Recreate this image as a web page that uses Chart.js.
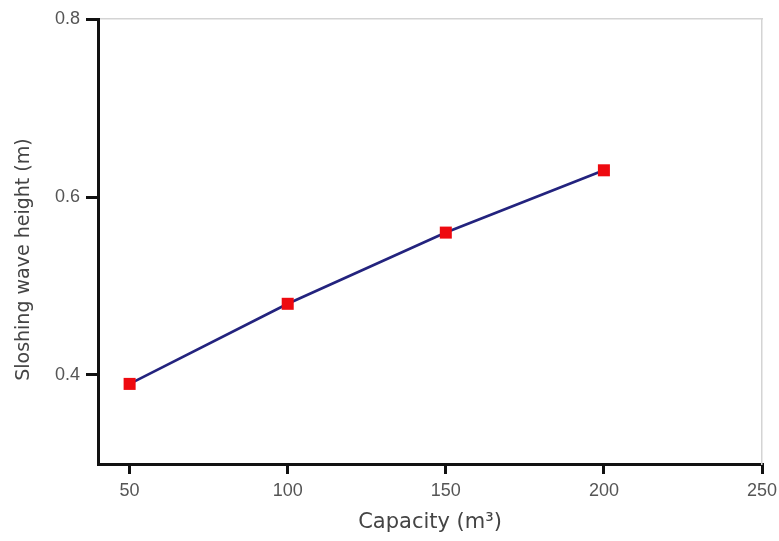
<!DOCTYPE html>
<html>
<head>
<meta charset="utf-8">
<script src="https://cdn.jsdelivr.net/npm/chart.js@4.4.1/dist/chart.umd.min.js"></script>
<style>
html,body{margin:0;padding:0;background:#fff;}
#wrap{width:779px;height:541px;}
</style>
</head>
<body>
<div id="wrap"><canvas id="c" width="779" height="541"></canvas></div>
<script>
const capacity = [50, 100, 150, 200];
const waveHeight = [0.39, 0.48, 0.56, 0.63];
const xTicks = [50, 100, 150, 200, 250];
const yTicks = [0.4, 0.6, 0.8];

const FONT = "'Liberation Sans', Arial, sans-serif";
const TFONT = "'DejaVu Sans', 'Liberation Sans', sans-serif";

new Chart(document.getElementById('c'), {
  type: 'line',
  data: {
    datasets: [{
      data: capacity.map((x, i) => ({x: x, y: waveHeight[i]})),
      borderColor: '#23237e',
      borderWidth: 2.7,
      pointStyle: 'rect',
      pointRadius: 8.5,
      pointBackgroundColor: '#ee0a10',
      pointBorderWidth: 0,
      tension: 0,
      clip: false
    }]
  },
  options: {
    responsive: false,
    animation: false,
    devicePixelRatio: 1,
    layout: {padding: {left: 0, right: 17, top: 19, bottom: 0}},
    plugins: {legend: {display: false}, tooltip: {enabled: false}},
    scales: {
      x: {
        type: 'linear', position: 'bottom', min: 40, max: 250,
        afterBuildTicks: s => { s.ticks = xTicks.map(v => ({value: v})); },
        afterFit: s => { s.height = 77; s.paddingLeft = 0; s.paddingRight = 0; },
        grid: {drawOnChartArea: false, drawTicks: true, tickLength: 10, color: '#111', lineWidth: 3},
        border: {display: true, color: '#111', width: 3},
        ticks: {color: '#555', font: {family: FONT, size: 18}, padding: 6, maxRotation: 0},
        title: {display: true, text: 'Capacity (m\u00B3)', color: '#444', font: {family: TFONT, size: 21}, padding: {top: 0, bottom: 6}}
      },
      x2: {
        type: 'linear', position: 'top', min: 40, max: 250,
        afterFit: s => { s.height = 0; s.paddingLeft = 0; s.paddingRight = 0; },
        grid: {display: false, drawTicks: false},
        border: {display: true, color: '#d4d4d4', width: 1.5},
        ticks: {display: false}
      },
      y: {
        type: 'linear', position: 'left', min: 0.3, max: 0.8,
        afterBuildTicks: s => { s.ticks = yTicks.map(v => ({value: v})); },
        afterFit: s => { s.width = 98; s.paddingTop = 0; s.paddingBottom = 0; },
        grid: {drawOnChartArea: false, drawTicks: true, tickLength: 12, color: '#111', lineWidth: 3},
        border: {display: true, color: '#111', width: 3},
        ticks: {color: '#555', font: {family: FONT, size: 18}, padding: 6, callback: v => v.toFixed(1)},
        title: {display: true, text: 'Sloshing wave height (m)\u00A0\u00A0\u00A0\u00A0\u00A0\u00A0', color: '#444', font: {family: TFONT, size: 19}, padding: {top: 13, bottom: 0}}
      },
      y2: {
        type: 'linear', position: 'right', min: 0.3, max: 0.8,
        afterFit: s => { s.width = 0; s.paddingTop = 0; s.paddingBottom = 0; },
        grid: {display: false, drawTicks: false},
        border: {display: true, color: '#d4d4d4', width: 1.5},
        ticks: {display: false}
      }
    }
  }
});
</script>
</body>
</html>
